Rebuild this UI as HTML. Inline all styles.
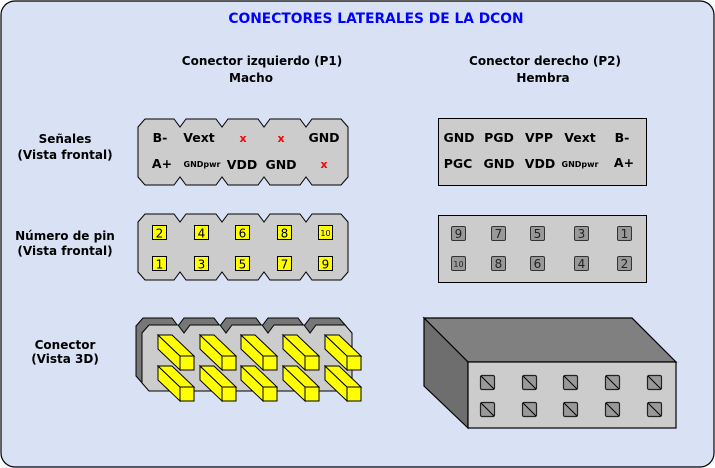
<!DOCTYPE html>
<html><head><meta charset="utf-8"><style>
html,body{margin:0;padding:0;background:#fff}
svg{display:block}
text{font-family:"DejaVu Sans","Liberation Sans",sans-serif}
.b text{font-weight:bold}
</style></head><body>
<svg width="715" height="468" viewBox="0 0 715 468" xmlns="http://www.w3.org/2000/svg">
<defs>
<path id="conn" d="M7,0 L36,0 L42,8 L48,0 L78,0 L84,8 L90,0 L120,0 L126,8 L132,0 L162,0 L168,8 L174,0 L203,0 L210,8 L210,58 L203,66 L174,66 L168,58 L162,66 L132,66 L126,58 L120,66 L90,66 L84,58 L78,66 L48,66 L42,58 L36,66 L7,66 L0,58 L0,8 Z"/>
<g id="prism">
<polygon points="-22,-21 0,0 0,14 -22,-7" fill="#ffff00" stroke="#000" stroke-width="1"/>
<polygon points="-22,-21 -8,-21 14,0 0,0" fill="#ffff00" stroke="#000" stroke-width="1"/>
<rect x="0" y="0" width="14" height="14" fill="#ffff00" stroke="#000" stroke-width="1"/>
</g>
<g id="hole">
<rect x="0" y="0" width="14" height="14" rx="1.5" fill="#999" stroke="#222" stroke-width="1.2"/>
<line x1="0.5" y1="0.5" x2="13.5" y2="13.5" stroke="#000" stroke-width="1"/>
</g>
</defs>
<rect x="1" y="1" width="713" height="466" rx="14" fill="#d8e2f4" stroke="#000" stroke-width="1.2"/>
<g class="b">
<text x="376" y="23" font-size="13.8" fill="#0000ff" text-anchor="middle">CONECTORES LATERALES DE LA DCON</text>
<g font-size="12" text-anchor="middle" fill="#000">
<text x="262" y="65">Conector izquierdo (P1)</text>
<text x="251" y="82">Macho</text>
<text x="545" y="65">Conector derecho (P2)</text>
<text x="543" y="82">Hembra</text>
<text x="65" y="143">Señales</text>
<text x="65" y="159">(Vista frontal)</text>
<text x="65" y="240">Número de pin</text>
<text x="65" y="255">(Vista frontal)</text>
<text x="65" y="349">Conector</text>
<text x="65" y="363">(Vista 3D)</text>
</g>
</g>
<!-- left signals -->
<use href="#conn" x="138" y="119" fill="#cccccc" stroke="#000" stroke-width="1"/>
<g font-size="12.5" text-anchor="middle" class="b">
<text x="160" y="142">B-</text><text x="199" y="142">Vext</text>
<text x="243" y="142" fill="#ff0000" font-size="11">x</text><text x="281" y="142" fill="#ff0000" font-size="11">x</text>
<text x="324" y="142">GND</text>
<text x="162" y="168">A+</text><text x="202" y="167" font-size="8">GNDpwr</text>
<text x="242" y="169">VDD</text><text x="281" y="169">GND</text>
<text x="324" y="168" fill="#ff0000" font-size="11">x</text>
</g>
<!-- left pin numbers -->
<use href="#conn" x="138" y="214" fill="#cccccc" stroke="#000" stroke-width="1"/>
<g fill="#ffff00" stroke="#000" stroke-width="1">
<rect x="152.5" y="225.5" width="14" height="14"/><rect x="194.5" y="225.5" width="14" height="14"/><rect x="235.5" y="225.5" width="14" height="14"/><rect x="277.5" y="225.5" width="14" height="14"/><rect x="318.5" y="225.5" width="14" height="14"/>
<rect x="152.5" y="256.5" width="14" height="14"/><rect x="194.5" y="256.5" width="14" height="14"/><rect x="235.5" y="256.5" width="14" height="14"/><rect x="277.5" y="256.5" width="14" height="14"/><rect x="318.5" y="256.5" width="14" height="14"/>
</g>
<g font-size="12" text-anchor="middle">
<text x="159.5" y="237.5">2</text><text x="201.5" y="237.5">4</text><text x="242.5" y="237.5">6</text><text x="284.5" y="237.5">8</text><text x="325.5" y="236" font-size="8">10</text>
<text x="159.5" y="268.5">1</text><text x="201.5" y="268.5">3</text><text x="242.5" y="268.5">5</text><text x="284.5" y="268.5">7</text><text x="325.5" y="268.5">9</text>
</g>
<!-- left 3D -->
<use href="#conn" x="136" y="318" fill="#777" stroke="#000" stroke-width="1"/>
<use href="#conn" x="142" y="325" fill="#cccccc" stroke="#000" stroke-width="1"/>
<use href="#prism" x="180" y="356"/><use href="#prism" x="222" y="356"/><use href="#prism" x="263" y="356"/><use href="#prism" x="305" y="356"/><use href="#prism" x="347" y="356"/>
<use href="#prism" x="180" y="387"/><use href="#prism" x="222" y="387"/><use href="#prism" x="263" y="387"/><use href="#prism" x="305" y="387"/><use href="#prism" x="347" y="387"/>
<!-- right signals -->
<rect x="438.5" y="118.5" width="208" height="67" fill="#cccccc" stroke="#000"/>
<g font-size="12.5" text-anchor="middle" class="b">
<text x="459" y="142">GND</text><text x="499" y="142">PGD</text><text x="539" y="142">VPP</text><text x="580" y="142">Vext</text><text x="622" y="142">B-</text>
<text x="458" y="168">PGC</text><text x="499" y="168">GND</text><text x="540" y="168">VDD</text><text x="580" y="167" font-size="8">GNDpwr</text><text x="624" y="167">A+</text>
</g>
<!-- right pins -->
<rect x="438.5" y="215.5" width="208" height="67" fill="#cccccc" stroke="#000"/>
<g fill="#999" stroke="#333" stroke-width="1">
<rect x="451.5" y="226.5" width="14" height="14" rx="1.5"/><rect x="491.5" y="226.5" width="14" height="14" rx="1.5"/><rect x="530.5" y="226.5" width="14" height="14" rx="1.5"/><rect x="574.5" y="226.5" width="14" height="14" rx="1.5"/><rect x="617.5" y="226.5" width="14" height="14" rx="1.5"/>
<rect x="451.5" y="256.5" width="14" height="14" rx="1.5"/><rect x="491.5" y="256.5" width="14" height="14" rx="1.5"/><rect x="530.5" y="256.5" width="14" height="14" rx="1.5"/><rect x="574.5" y="256.5" width="14" height="14" rx="1.5"/><rect x="617.5" y="256.5" width="14" height="14" rx="1.5"/>
</g>
<g font-size="12" text-anchor="middle" fill="#222">
<text x="458.5" y="238">9</text><text x="498.5" y="238">7</text><text x="537.5" y="238">5</text><text x="581.5" y="238">3</text><text x="624.5" y="238">1</text>
<text x="458.5" y="267" font-size="8">10</text><text x="498.5" y="268">8</text><text x="537.5" y="268">6</text><text x="581.5" y="268">4</text><text x="624.5" y="268">2</text>
</g>
<!-- right 3D -->
<polygon points="424,318 632,318 676,362 468,362" fill="#808080" stroke="#000" stroke-width="1.2"/>
<polygon points="424,318 468,362 468,428 424,386" fill="#6e6e6e" stroke="#000" stroke-width="1.2"/>
<rect x="468" y="362" width="208" height="66" fill="#cccccc" stroke="#000" stroke-width="1.2"/>
<use href="#hole" x="480.5" y="375.5"/><use href="#hole" x="522.5" y="375.5"/><use href="#hole" x="563.5" y="375.5"/><use href="#hole" x="605.5" y="375.5"/><use href="#hole" x="647.5" y="375.5"/>
<use href="#hole" x="480.5" y="402.5"/><use href="#hole" x="522.5" y="402.5"/><use href="#hole" x="563.5" y="402.5"/><use href="#hole" x="605.5" y="402.5"/><use href="#hole" x="647.5" y="402.5"/>
</svg>
</body></html>
